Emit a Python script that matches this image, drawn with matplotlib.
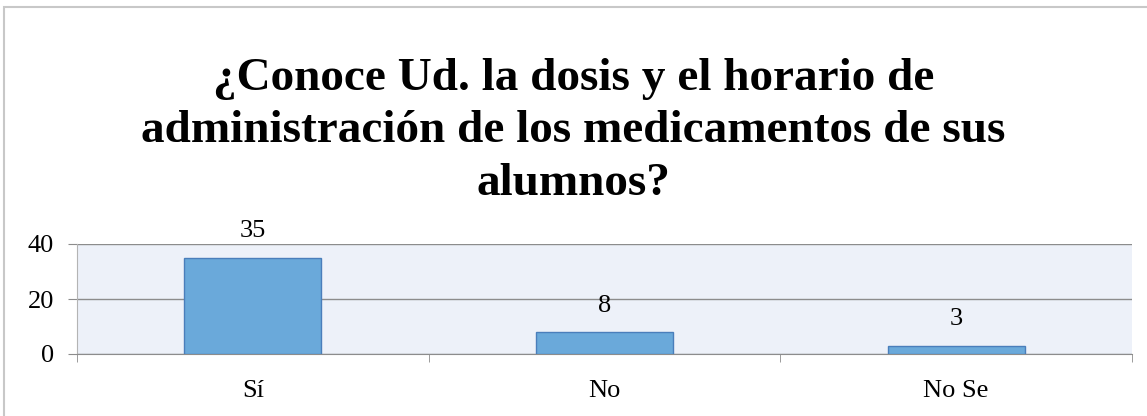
import numpy as np
import matplotlib
matplotlib.use("Agg")
import matplotlib.pyplot as plt
from matplotlib.patches import Rectangle

categorias = ["Sí", "No", "No Se"]
valores = [35, 8, 3]
titulo = "¿Conoce Ud. la dosis y el horario de\nadministración de los medicamentos de sus\nalumnos?"

plt.rcParams['font.family'] = ['Liberation Serif', 'DejaVu Serif']

W, H = 1147, 416
fig = plt.figure(figsize=(W / 100, H / 100), dpi=100)

# outer chart frame
fig.patches.append(Rectangle((4 / W, -0.1), 1.2, (416 - 7) / H + 0.1, transform=fig.transFigure,
                             fill=False, edgecolor='#c8c8c8', linewidth=1.5, zorder=0))

ax = fig.add_axes([77 / W, (416 - 354) / H, (1132 - 77) / W, (354 - 244) / H])
ax.set_facecolor('#edf1f9')

x = np.arange(len(categorias))
ax.bar(x, valores, width=0.39, color='#6aa9da', edgecolor='#4a7ebb', linewidth=1, zorder=3)
for xi, v in zip(x, valores):
    ax.annotate(str(v), (xi, v), xytext=(0, 11), textcoords='offset points',
                ha='center', va='bottom', fontsize=19)

ax.set_xlim(-0.5, 2.5)
ax.set_ylim(0, 40)
ax.set_yticks([0, 20, 40])
ax.yaxis.grid(True, color='#8c8c8c', linewidth=1, zorder=1)
ax.set_xticks(x)
ax.set_xticklabels(categorias)
ax.set_xticks([-0.5, 0.5, 1.5, 2.5], minor=True)
ax.tick_params(axis='x', which='major', length=0, pad=19, labelsize=19)
ax.tick_params(axis='x', which='minor', length=6, color='#8c8c8c')
ax.tick_params(axis='y', length=6.5, color='#8c8c8c', labelsize=19, pad=10)

for s in ['top', 'right']:
    ax.spines[s].set_visible(False)
ax.spines['left'].set_color('#b4b4b4')
ax.spines['bottom'].set_color('#8c8c8c')

fig.text(0.5, 1 - 195 / H, titulo, ha='center', va='baseline', fontsize=34, fontweight='bold',
         linespacing=1.33)

fig.savefig("out.png", dpi=100)
